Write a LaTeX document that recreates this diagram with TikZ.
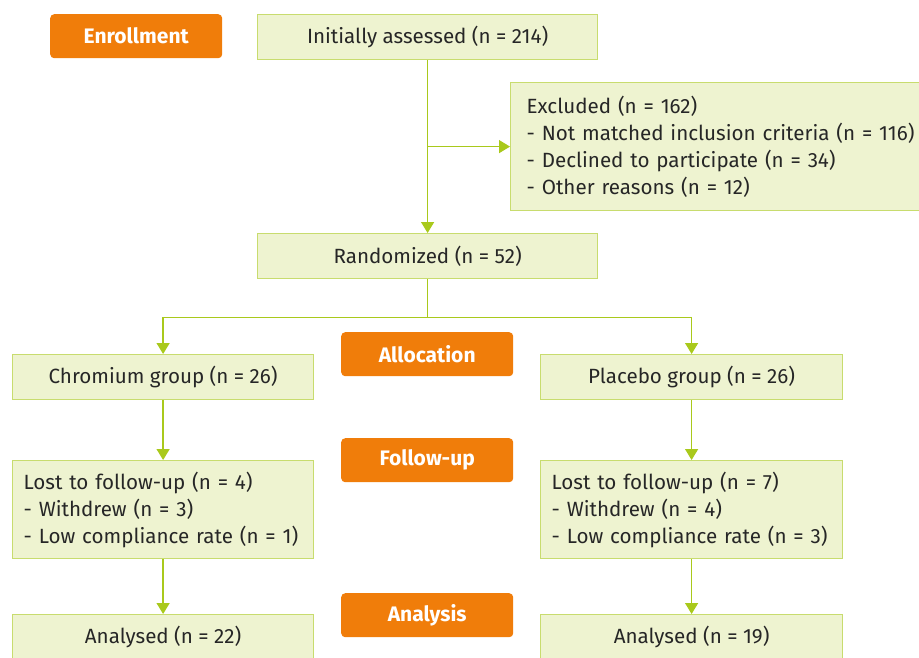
\documentclass[tikz,border=0pt]{standalone}
\usepackage{fontspec}
\setmainfont{Fira Sans}
\usetikzlibrary{arrows.meta,calc}
\definecolor{boxfill}{HTML}{EEF3D0}
\definecolor{boxline}{HTML}{C8DC6E}
\definecolor{arrowgreen}{HTML}{A9C91C}
\definecolor{stageorange}{HTML}{F07D0A}

\begin{document}
\begin{tikzpicture}[x=1pt,y=-1pt]
\tikzset{box/.style={draw=boxline,fill=boxfill,line width=1.2pt,inner sep=0pt,anchor=north west,
    font=\fontsize{20.6}{27}\selectfont,text=black!85},
  listbox/.style={box,align=left},
  stage/.style={fill=stageorange,rounded corners=4pt,anchor=north west,minimum width=172pt,minimum height=44pt,
    inner sep=0pt,text=white,font=\fontsize{21}{27}\selectfont\bfseries},
  flow/.style={draw=arrowgreen,line width=1.3pt},
  arr/.style={flow,-{Triangle[length=11pt,width=13pt]}}}
\useasboundingbox (0,0) rectangle (919,657);
\clip (0,0) rectangle (919,657);

\node[stage] (enroll) at (50,14) {Enrollment};
\node[stage] (alloc) at (341,332) {Allocation};
\node[stage] (follow) at (341,438) {Follow-up};
\node[stage] (analysis) at (341,593) {Analysis};

\node[box,minimum width=340pt,minimum height=45pt] (assessed) at (257,14) {Initially assessed (n = 214)};
\node[listbox,text width=396pt,inner xsep=16pt,minimum height=128pt] (excluded) at (510,82)
  {Excluded (n = 162)\\- Not matched inclusion criteria (n = 116)\\- Declined to participate (n = 34)\\- Other reasons (n = 12)};
\node[box,minimum width=340pt,minimum height=45pt] (random) at (257,233) {Randomized (n = 52)};

\node[box,minimum width=301pt,minimum height=45pt] (chrom) at (12,354) {Chromium group (n = 26)};
\node[box,minimum width=302pt,minimum height=45pt] (placebo) at (540,354) {Placebo group (n = 26)};

\node[listbox,text width=279pt,inner xsep=11pt,minimum height=98pt] (lostc) at (12,460)
  {Lost to follow-up (n = 4)\\- Withdrew (n = 3)\\- Low compliance rate (n = 1)};
\node[listbox,text width=280pt,inner xsep=11pt,minimum height=98pt] (lostp) at (540,460)
  {Lost to follow-up (n = 7)\\- Withdrew (n = 4)\\- Low compliance rate (n = 3)};

\node[box,minimum width=301pt,minimum height=45pt] (anac) at (12,614) {Analysed (n = 22)};
\node[box,minimum width=302pt,minimum height=45pt] (anap) at (540,614) {Analysed (n = 19)};

\draw[arr] (assessed.south) -- (random.north);
\coordinate (excl) at (assessed.south |- excluded.west);
\draw[arr] (excl) -- (excluded.west);
\coordinate (split) at ($(random.south)+(0,38)$);
\coordinate (splitc) at (chrom.north |- split);
\coordinate (splitp) at (placebo.north |- split);
\draw[flow] (random.south) -- (split);
\draw[arr] (split) -- (splitc) -- (chrom.north);
\draw[arr] (split) -- (splitp) -- (placebo.north);
\draw[arr] (chrom.south) -- (lostc.north);
\draw[arr] (placebo.south) -- (lostp.north);
\draw[arr] (lostc.south) -- (anac.north);
\draw[arr] (lostp.south) -- (anap.north);
\end{tikzpicture}
\end{document}
